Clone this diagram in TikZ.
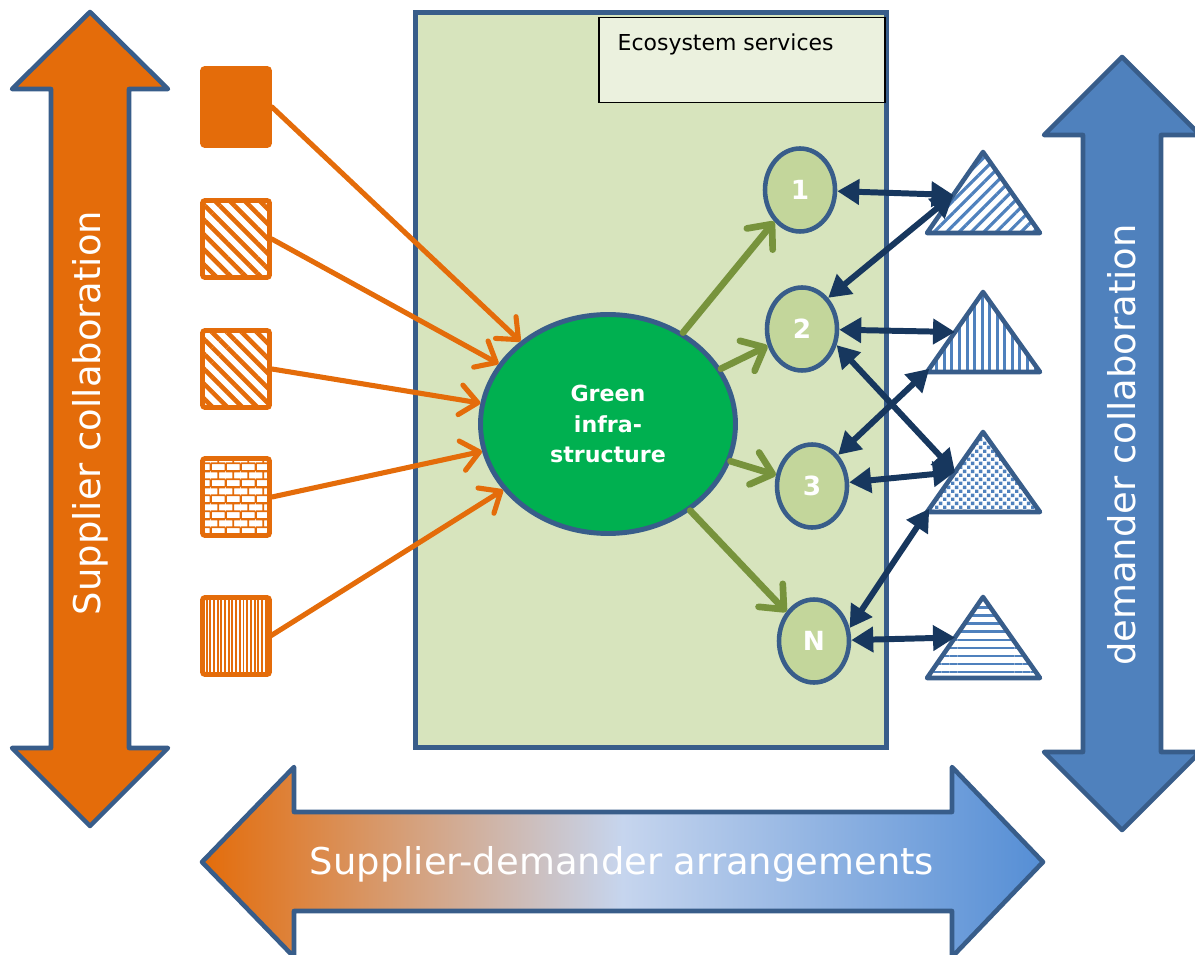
\documentclass[tikz,border=0pt]{standalone}
\usepackage{fontspec}
\setmainfont{DejaVu Sans}
\usetikzlibrary{arrows.meta,shapes.geometric,patterns.meta,calc}

\definecolor{supplyorange}{HTML}{E46C0A}
\definecolor{demandblue}{HTML}{4F81BD}
\definecolor{outlineblue}{HTML}{385D8A}
\definecolor{giboxfill}{HTML}{D7E4BD}
\definecolor{esfill}{HTML}{EBF1DE}
\definecolor{gigreen}{HTML}{00B050}
\definecolor{servicefill}{HTML}{C3D69B}
\definecolor{servegreen}{HTML}{77933C}
\definecolor{linkblue}{HTML}{17375E}
\definecolor{midpale}{HTML}{C6D5EE}
\definecolor{rightblue}{HTML}{558ED5}

\tikzdeclarepattern{
  name=bricks,
  type=uncolored,
  bottom left={(0pt,0pt)},
  top right={(8.6pt,9.2pt)},
  tile size={(8.6pt,9.2pt)},
  code={
    \tikzset{x=1pt,y=1pt,line width=1.2pt}
    \draw (0,0) -- (8.6,0) (0,4.6) -- (8.6,4.6) (0,9.2) -- (8.6,9.2)
          (0,0) -- (0,4.6) (8.6,0) -- (8.6,4.6) (4.3,4.6) -- (4.3,9.2);
  }
}
\tikzdeclarepattern{
  name=squaredots,
  type=uncolored,
  bottom left={(0pt,0pt)},
  top right={(4.8pt,4.8pt)},
  tile size={(4.8pt,4.8pt)},
  code={
    \tikzset{x=1pt,y=1pt}
    \fill (0,0) rectangle (2.1,2.1);
    \fill (2.4,2.4) rectangle (4.5,4.5);
  }
}

\tikzset{
  supplier/.style={draw=supplyorange, line width=2.8pt, rounded corners=1.5pt,
    minimum width=1.34cm, minimum height=1.54cm, inner sep=0pt},
  service/.style={ellipse, draw=outlineblue, fill=servicefill, line width=2.6pt,
    minimum width=1.40cm, minimum height=1.66cm, inner sep=0pt, text=white,
    font=\bfseries\fontsize{15}{17}\selectfont},
  demander/.style={draw=outlineblue, line width=2.6pt, line join=round},
  bigarrow/.style={draw=outlineblue, line width=2.6pt, line join=round},
  supply/.style={draw=supplyorange, line width=2.9pt, line cap=round,
    -{Straight Barb[length=10pt,width=17pt,round]}},
  serve/.style={draw=servegreen, line width=3.8pt, line cap=round,
    -{Straight Barb[length=11pt,width=19pt,round]}},
  link/.style={draw=linkblue, line width=3.4pt,
    {Triangle[length=12.5pt,width=14pt]}-{Triangle[length=12.5pt,width=14pt]}},
  bigtext/.style={text=white, font=\fontsize{21}{25}\selectfont}
}

\begin{document}
\begin{tikzpicture}[x=0.02cm, y=-0.02cm]
  \useasboundingbox (0,0) rectangle (1195,955);

  % collaboration arrows
  \draw[bigarrow, fill=supplyorange] (90,12) -- (168,89) -- (129,89) -- (129,748)
    -- (168,748) -- (90,826) -- (12,748) -- (51,748) -- (51,89) -- (12,89) -- cycle;
  \node[bigtext, rotate=90] (supcollab) at (90,413) {Supplier collaboration};

  \draw[bigarrow, fill=demandblue] (1122,57) -- (1200,135) -- (1161,135) -- (1161,752)
    -- (1200,752) -- (1122,830) -- (1044,752) -- (1083,752) -- (1083,135) -- (1044,135) -- cycle;
  \node[bigtext, rotate=90] (demcollab) at (1122,445) {demander collaboration};

  \draw[bigarrow, left color=supplyorange, right color=rightblue, middle color=midpale]
    (202,862) -- (294,767) -- (294,812) -- (952,812) -- (952,767) -- (1043,862)
    -- (952,957) -- (952,911) -- (294,911) -- (294,957) -- cycle;
  \node[bigtext] (arrange) at (622,864) {Supplier-demander arrangements};

  % ecosystem services box
  \node[draw=outlineblue, fill=giboxfill, line width=2.6pt, minimum width=9.42cm,
    minimum height=14.7cm] (gibox) at (651,380) {};
  \node[draw=black, fill=esfill, line width=0.8pt, minimum width=5.72cm, minimum height=1.7cm,
    label={[anchor=north west, inner sep=0pt, xshift=0.38cm, yshift=-0.34cm,
      font=\fontsize{12.5}{15}\selectfont]north west:Ecosystem services}] (es) at (742,60) {};

  % suppliers
  \node[supplier, fill=supplyorange] (s1) at (236,107) {};
  \node[supplier, pattern={Lines[angle=-45,distance=6pt,line width=2.6pt]},
    pattern color=supplyorange] (s2) at (236,239) {};
  \node[supplier, pattern={Lines[angle=-45,distance=6pt,line width=2.6pt]},
    pattern color=supplyorange] (s3) at (236,369) {};
  \node[supplier, pattern=bricks, pattern color=supplyorange] (s4) at (236,497) {};
  \node[supplier, pattern={Lines[angle=90,distance=2.1pt,line width=1.1pt]},
    pattern color=supplyorange] (s5) at (236,636) {};

  % green infrastructure and services
  \node[ellipse, draw=outlineblue, fill=gigreen, line width=2.8pt, minimum width=5.1cm,
    minimum height=4.38cm, inner sep=0pt, text=white, align=center,
    font=\bfseries\fontsize{12.6}{17.6}\selectfont] (gi) at (608,424) {Green\\infra-\\structure};

  \node[service] (e1) at (800,190) {1};
  \node[service] (e2) at (802,329) {2};
  \node[service] (e3) at (812,486) {3};
  \node[service] (eN) at (814,641) {N};

  % demanders
  \path[demander, pattern={Lines[angle=45,distance=5pt,line width=1.8pt]}, pattern color=demandblue]
    (927,233) coordinate (t1l) -- (983,152) coordinate (t1a) -- (1040,233) -- cycle;
  \path[demander, pattern={Lines[angle=90,distance=4.3pt,line width=1.7pt]}, pattern color=demandblue]
    (927,372) coordinate (t2l) -- (983,292) coordinate (t2a) -- (1040,372) -- cycle;
  \path[demander, pattern=squaredots, pattern color=demandblue]
    (927,512) coordinate (t3l) -- (983,432) coordinate (t3a) -- (1040,512) -- cycle;
  \path[demander, pattern={Lines[angle=0,distance=4.6pt,line width=1.4pt]}, pattern color=demandblue]
    (927,678) coordinate (t4l) -- (983,597) coordinate (t4a) -- (1040,678) -- cycle;

  \coordinate (t1s) at ($(t1l)!0.47!(t1a)$);
  \coordinate (t2s) at ($(t2l)!0.5!(t2a)$);
  \coordinate (t2c) at ($(t2l)!0.04!(t2a)$);
  \coordinate (t3s) at ($(t3l)!0.5!(t3a)$);
  \coordinate (t3c) at ($(t3l)!0.04!(t3a)$);
  \coordinate (t4s) at ($(t4l)!0.5!(t4a)$);

  % connectors
  \draw[supply] (s1.east) -- (gi);
  \draw[supply] (s2.east) -- (gi);
  \draw[supply] (s3.east) -- (gi);
  \draw[supply] (s4.east) -- (gi);
  \draw[supply] (s5.east) -- (gi);

  \draw[serve] (gi) -- (e1);
  \draw[serve] (gi) -- (e2);
  \draw[serve] (gi) -- (e3);
  \draw[serve] (gi) -- (eN);

  \draw[link] (e1) -- (t1s);
  \draw[link] (t1s) -- (e2.50);
  \draw[link] (e2) -- (t2s);
  \draw[link] (t2c) -- (e3.50);
  \draw[link] (e2.-25) -- (t3s);
  \draw[link] (e3) -- (t3s);
  \draw[link] (t3c) -- (eN.20);
  \draw[link] (eN) -- (t4s);
\end{tikzpicture}
\end{document}
